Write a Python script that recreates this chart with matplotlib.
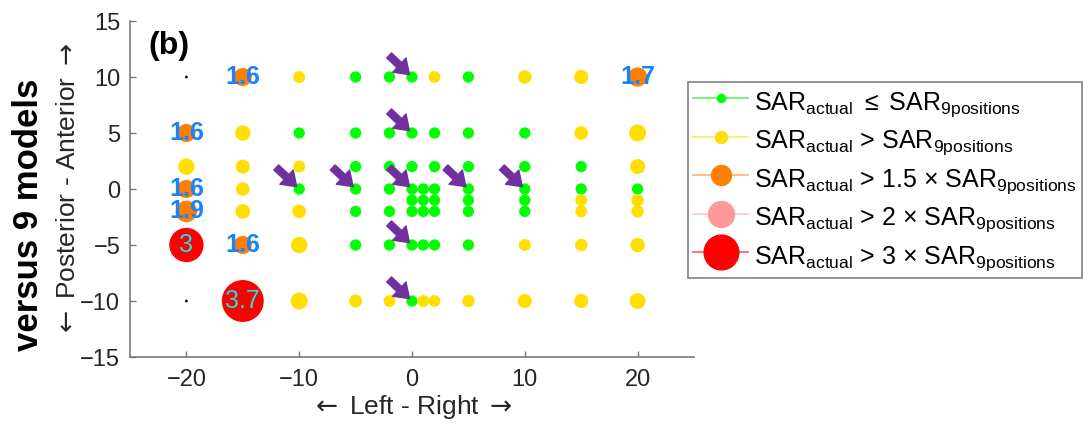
import matplotlib
matplotlib.use('Agg')
import matplotlib.pyplot as plt
from matplotlib.lines import Line2D
import numpy as np

plt.rcParams['font.family'] = ['Liberation Sans', 'DejaVu Sans']
plt.rcParams['mathtext.fontset'] = 'custom'
plt.rcParams['mathtext.rm'] = 'Liberation Sans'
plt.rcParams['mathtext.it'] = 'Liberation Sans:italic'
plt.rcParams['mathtext.bf'] = 'Liberation Sans:bold'
plt.rcParams['mathtext.sf'] = 'DejaVu Sans'

# coil shifts (mm): left-right, posterior-anterior, and SAR_actual / SAR_9positions
# nan = no result at that shift
shift_lr = [-20, -20, -20, -20, -20, -20, -20,
            -15, -15, -15, -15, -15, -15, -15,
            -10, -10, -10, -10, -10, -10, -10,
            -5, -5, -5, -5, -5, -5, -5,
            -2, -2, -2, -2, -2, -2, -2,
            0, 0, 0, 0, 0, 0, 0, 0,
            1, 1, 1, 1, 1,
            2, 2, 2, 2, 2, 2, 2, 2,
            5, 5, 5, 5, 5, 5, 5, 5,
            10, 10, 10, 10, 10, 10, 10, 10,
            15, 15, 15, 15, 15, 15, 15, 15,
            20, 20, 20, 20, 20, 20, 20, 20]
shift_pa = [10, 5, 2, 0, -2, -5, -10,
            10, 5, 2, 0, -2, -5, -10,
            10, 5, 2, 0, -2, -5, -10,
            10, 5, 2, 0, -2, -5, -10,
            10, 5, 2, 0, -2, -5, -10,
            10, 5, 2, 0, -1, -2, -5, -10,
            0, -1, -2, -5, -10,
            10, 5, 2, 0, -1, -2, -5, -10,
            10, 5, 2, 0, -1, -2, -5, -10,
            10, 5, 2, 0, -1, -2, -5, -10,
            10, 5, 2, 0, -1, -2, -5, -10,
            10, 5, 2, 0, -1, -2, -5, -10]
ratio = [np.nan, 1.6, 1.45, 1.6, 1.9, 3.03, np.nan,
         1.6, 1.35, 1.25, 1.2, 1.3, 1.6, 3.7,
         1.05, 0.9, 1.05, 0.9, 1.2, 1.45, 1.5,
         0.9, 0.9, 0.9, 0.9, 0.9, 0.9, 1.15,
         0.9, 0.9, 0.9, 0.9, 0.9, 0.9, 1.05,
         0.9, 0.9, 0.9, 0.9, 0.9, 0.9, 0.9, 0.9,
         0.9, 0.9, 0.9, 0.9, 1.05,
         1.05, 0.9, 0.9, 0.9, 0.9, 0.9, 0.9, 1.05,
         0.9, 0.9, 0.9, 0.9, 0.9, 0.9, 0.9, 1.1,
         1.2, 0.9, 0.9, 0.9, 0.9, 0.9, 1.05, 1.25,
         1.25, 1.2, 0.9, 0.9, 1.05, 1.05, 1.1, 1.25,
         1.7, 1.5, 1.33, 0.9, 1.1, 1.1, 1.27, 1.4]

# the 9 positions used for the reference models
model_lr = [0, 0, -10, -5, 0, 5, 10, 0, 0]
model_pa = [10, 5, 0, 0, 0, 0, 0, -5, -10]

c_green = '#00ff00'
c_yellow = '#ffde00'
c_orange = '#ff8000'
c_pink = '#ff9999'
c_red = '#ff0000'
purple = '#7030a0'
axis_grey = '#7a7a7a'
text_grey = '#262626'


def colour(r):
    if r <= 1:
        return c_green
    if r <= 1.5:
        return c_yellow
    if r <= 2:
        return c_orange
    if r <= 3:
        return c_pink
    return c_red


fig = plt.figure(figsize=(10.92, 4.28), dpi=100)
ax = fig.add_axes([130 / 1092, 71 / 428, 564 / 1092, 336 / 428])

x = np.array(shift_lr, dtype=float)
y = np.array(shift_pa, dtype=float)
r = np.array(ratio, dtype=float)

ok = ~np.isnan(r)
# marker diameter grows with the ratio, green ones kept at ratio 1 size
diam = 8.15 * np.maximum(r[ok], 1.0)
cols = [colour(v) for v in r[ok]]
order = np.argsort(diam)
ax.scatter(x[ok][order], y[ok][order], s=diam[order] ** 2,
           c=[cols[i] for i in order], edgecolors='none', zorder=3)
ax.scatter(x[~ok], y[~ok], s=4, c='k', edgecolors='none', zorder=3)

for xi, yi, ri in zip(x[ok], y[ok], r[ok]):
    if ri > 3:
        ax.text(xi, yi, f'{round(ri, 1):g}', ha='center', va='center',
                fontsize=18, color='#1ee0e6', zorder=5)
    elif ri > 1.5:
        ax.text(xi, yi, f'{round(ri, 1):g}', ha='center', va='center',
                fontsize=18, fontweight='bold', color='#1a82ff', zorder=5)

for mx, my in zip(model_lr, model_pa):
    ax.annotate('', xy=(mx, my), xytext=(-16.5, 15.5), textcoords='offset points',
                arrowprops=dict(arrowstyle='simple,head_width=1.4,head_length=1.0,tail_width=0.5',
                                color=purple, shrinkA=0, shrinkB=2.5, mutation_scale=10),
                zorder=4)

ax.set_xlim(-25, 25)
ax.set_ylim(-15, 15)
ax.set_xticks([-20, -10, 0, 10, 20])
ax.set_yticks([-15, -10, -5, 0, 5, 10, 15])
ax.spines['top'].set_visible(False)
ax.spines['right'].set_visible(False)
for s in ['left', 'bottom']:
    ax.spines[s].set_color(axis_grey)
    ax.spines[s].set_linewidth(1.2)
ax.tick_params(direction='in', length=4, width=1, color=axis_grey,
               labelsize=17, labelcolor=text_grey)
ax.tick_params(axis='x', pad=9)
ax.tick_params(axis='y', pad=7)

left_arrow = r'$\mathsf{\leftarrow}$'
right_arrow = r'$\mathsf{\rightarrow}$'
fig.text(148 / 1092, 1 - 46 / 428, '(b)', fontsize=23, fontweight='bold',
         ha='left', va='center')
fig.text(412 / 1092, 1 - 407 / 428, left_arrow + ' Left - Right ' + right_arrow,
         fontsize=19, color=text_grey, ha='center', va='center')
fig.text(68 / 1092, 1 - 190 / 428,
         left_arrow + ' Posterior - Anterior ' + right_arrow, fontsize=19,
         color=text_grey, ha='center', va='center', rotation=90)
fig.text(29 / 1092, 1 - 215 / 428, 'versus 9 models', fontsize=25,
         fontweight='bold', ha='center', va='center', rotation=90)

sub_a = r'SAR$_{\mathrm{actual}}$'
sub_9 = r'SAR$_{\mathrm{9positions}}$'
leg_labels = [sub_a + r' $\leq$ ' + sub_9,
              sub_a + ' > ' + sub_9,
              sub_a + r' > 1.5 $\times$ ' + sub_9,
              sub_a + r' > 2 $\times$ ' + sub_9,
              sub_a + r' > 3 $\times$ ' + sub_9]
leg_faces = [c_green, c_yellow, c_orange, c_pink, c_red]
leg_lines = ['#66ee66', '#ffe866', '#ffb070', '#ffc4c4', '#ff5a5a']
leg_ms = [5.8, 8.6, 14.4, 18.7, 25]
handles = [Line2D([0], [0], color=lc, lw=1.2, marker='o', markersize=ms,
                  markerfacecolor=fc, markeredgecolor=fc)
           for fc, lc, ms in zip(leg_faces, leg_lines, leg_ms)]
leg = fig.legend(handles, leg_labels, loc='upper left',
                 bbox_to_anchor=(688 / 1092, 1 - 82 / 428), borderaxespad=0,
                 fontsize=18, frameon=True, fancybox=False, framealpha=1,
                 edgecolor='#808080', handlelength=2.2, handletextpad=0.25,
                 handleheight=1.4, labelspacing=0.26, borderpad=0.2)
leg.get_frame().set_linewidth(1.2)

fig.savefig('out.png', dpi=100)
